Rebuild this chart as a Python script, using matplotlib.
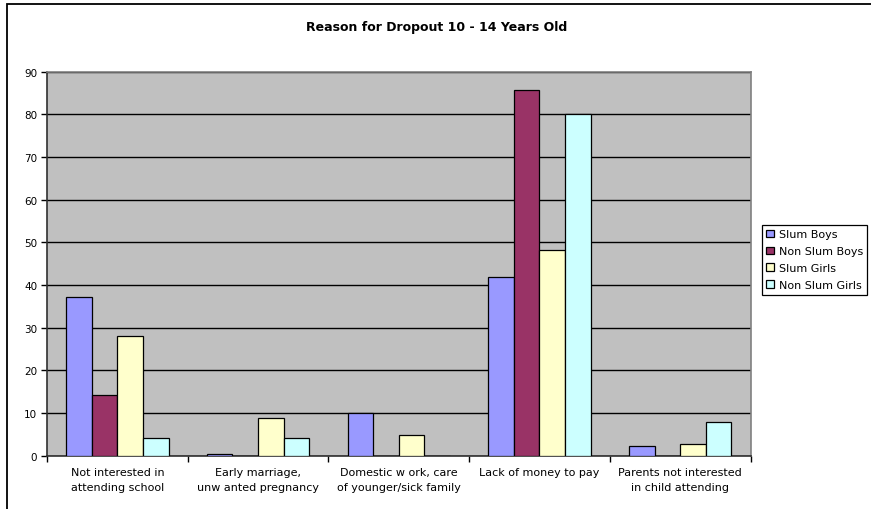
import matplotlib.pyplot as plt
import numpy as np
from matplotlib.patches import Rectangle

plt.rcParams['font.family'] = ['DejaVu Sans']

reasons = ['Not interested in\nattending school',
           'Early marriage,\nunw anted pregnancy',
           'Domestic w ork, care\nof younger/sick family',
           'Lack of money to pay',
           'Parents not interested\nin child attending']
series = ['Slum Boys', 'Non Slum Boys', 'Slum Girls', 'Non Slum Girls']
slum_boys = [37.3, 0.5, 10.0, 42.0, 2.3]
non_slum_boys = [14.3, 0, 0, 85.6, 0]
slum_girls = [28.1, 8.8, 4.9, 48.1, 2.8]
non_slum_girls = [4.1, 4.1, 0, 80.0, 8.0]
colors = ['#9999FF', '#993366', '#FFFFCC', '#CCFFFF']

W, H = 871, 510
fig = plt.figure(figsize=(W / 100, H / 100), dpi=100)
ax = fig.add_axes([47 / W, 1 - 456.7 / H, (750.5 - 47) / W, (456.7 - 72.7) / H])

# chart frame (only top and left edges fall inside the image)
fig.patches.append(Rectangle((7 / W, -0.1), 1.2, 1 - 5 / H + 0.1, transform=fig.transFigure,
                             fill=False, edgecolor='black', linewidth=1.3, zorder=0))

ax.set_facecolor('#C0C0C0')
x = np.arange(len(reasons))
bw = 0.182
data = [slum_boys, non_slum_boys, slum_girls, non_slum_girls]
for i, (vals, name, c) in enumerate(zip(data, series, colors)):
    ax.bar(x + (i - 1.5) * bw, vals, bw, color=c, edgecolor='black', linewidth=0.9,
           label=name, zorder=3)

ax.set_xlim(-0.5, len(reasons) - 0.5)
ax.set_ylim(0, 90)
ax.set_yticks(range(0, 91, 10))
ax.yaxis.grid(True, color='black', linewidth=1.0, zorder=1)
ax.set_axisbelow(True)
ax.tick_params(axis='y', direction='out', length=4, width=1, labelsize=7.5, pad=3)

# category labels centred under each group, ticks on the boundaries
ax.set_xticks(np.arange(-0.5, len(reasons), 1))
ax.set_xticklabels([])
ax.tick_params(axis='x', direction='out', length=4, width=1)
ax.set_xticks(x, minor=True)
ax.set_xticklabels(reasons, minor=True, fontsize=8, linespacing=1.6)
ax.tick_params(axis='x', which='minor', length=0, pad=8)

for s in ['top', 'right']:
    ax.spines[s].set_color('#808080')
    ax.spines[s].set_linewidth(1.2)
ax.spines['left'].set_color('#303030')
ax.spines['bottom'].set_color('#303030')
ax.spines['left'].set_linewidth(1.2)
ax.spines['bottom'].set_linewidth(1.2)

fig.text(437 / W, 1 - 28 / H, 'Reason for Dropout 10 - 14 Years Old', ha='center', va='center',
         fontsize=9, fontweight='bold')

leg = fig.legend(loc='upper left', bbox_to_anchor=(762 / W, 1 - 226 / H), fontsize=8,
                 frameon=True, fancybox=False, edgecolor='black', framealpha=1,
                 handlelength=0.7, handleheight=0.7, handletextpad=0.4,
                 labelspacing=0.62, borderpad=0.4, borderaxespad=0)
leg.get_frame().set_linewidth(0.9)

fig.savefig('out.png', dpi=100)
